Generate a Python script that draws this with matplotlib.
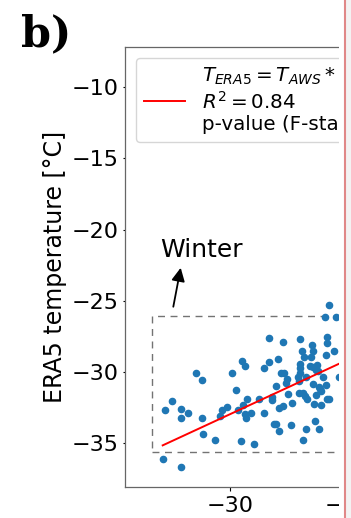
import matplotlib
matplotlib.use("Agg")
import matplotlib.pyplot as plt
from matplotlib.patches import Rectangle

# ---- data ----
aws_temp = [-35.72, -34.16, -35.52, -34.95, -34.19, -34.16, -33.57, -32.86, -32.38, -32.38,
            -32.29, -31.27, -30.82, -30.65, -30.28, -29.83, -29.46, -29.35, -29.09, -28.98,
            -28.75, -28.90, -28.70, -28.67, -28.56, -28.24, -27.99, -27.51, -27.09, -27.09,
            -26.71, -26.66, -26.46, -26.41, -26.26, -26.07, -26.07, -25.92, -25.86, -25.81,
            -25.64, -25.50, -25.47, -25.44, -25.27, -25.13, -25.07, -24.82, -24.73, -24.25,
            -24.14, -24.16, -24.08, -24.05, -24.03, -24.03, -23.88, -23.80, -23.77, -23.69,
            -23.63, -23.57, -23.52, -23.46, -23.23, -23.12, -23.03, -22.97, -22.92, -22.92,
            -22.89, -22.78, -22.72, -22.69, -22.61, -22.55, -22.44, -22.41, -22.33, -22.27,
            -22.24, -22.07, -21.95, -21.84, -21.82, -21.78, -21.76, -21.76, -21.59, -21.56,
            -21.16, -20.99, -20.70]
era5_temp = [-36.14, -36.70, -32.69, -32.08, -32.64, -33.24, -32.90, -30.07, -30.60, -33.28,
             -34.38, -34.82, -33.12, -32.69, -32.46, -30.07, -31.31, -32.69, -34.89, -29.23,
             -29.60, -32.36, -32.95, -33.26, -31.90, -32.90, -35.08, -31.90, -29.74, -32.88,
             -29.32, -27.65, -31.76, -31.99, -33.66, -31.01, -33.70, -29.13, -32.55, -34.15,
             -30.07, -32.41, -27.93, -30.07, -30.82, -30.49, -31.57, -33.77, -32.22, -30.39,
             -30.68, -31.48, -27.72, -29.46, -29.76, -30.07, -28.52, -31.48, -34.82, -28.99,
             -31.71, -34.03, -30.39, -31.94, -29.60, -28.95, -28.12, -28.57, -29.65, -30.87,
             -32.27, -33.45, -29.88, -31.62, -29.55, -29.97, -34.01, -31.05, -31.20, -32.32,
             -31.38, -30.35, -26.15, -30.91, -28.85, -28.00, -27.54, -31.94, -25.33, -31.94,
             -28.57, -26.17, -30.35]

fit_slope = 0.383
fit_intercept = -21.50
fit_x_range = [-35.72, -14.0]

winter_box_x = -36.65
winter_box_y = [-35.65, -26.06]
winter_label = "Winter"
winter_text_pos = (-32.40, -21.44)
winter_arrow_tail = (-34.82, -25.43)
winter_arrow_tip = (-34.19, -22.69)

legend_label = ("$T_{ERA5} = T_{AWS} * 0.38 - 21.5$\n"
                "$R^2 = 0.84$\n"
                "p-value (F-stat) < 0.001")
ylabel = "ERA5 temperature [°C]"
panel_label = "b)"
yticks = [-35, -30, -25, -20, -15, -10]
xticks = [-30, -20]

# ---- figure ----
W, H = 351, 518
fig = plt.figure(figsize=(W / 100, H / 100), dpi=100)
ax = fig.add_axes([124.7 / W, (H - 487) / H, 374.3 / W, 440.3 / H])

ax.scatter(aws_temp, era5_temp, s=20, color="#1f77b4", zorder=3)
fx = fit_x_range
fy = [fit_slope * v + fit_intercept for v in fx]
ax.plot(fx, fy, color="red", lw=1.4, label=legend_label, zorder=4)

ax.add_patch(Rectangle((winter_box_x, winter_box_y[0]), 30, winter_box_y[1] - winter_box_y[0],
                       fill=False, ls=(0, (5, 4)), lw=1.0, edgecolor="0.45", zorder=2))
ax.text(*winter_text_pos, winter_label, ha="center", va="center", fontsize=18)
ax.annotate("", xy=winter_arrow_tip, xytext=winter_arrow_tail,
            arrowprops=dict(arrowstyle="-|>", color="black", lw=1.3, mutation_scale=20,
                            shrinkA=0, shrinkB=0))

ax.set_xlim(-38.95, -7.14)
ax.set_ylim(-38.11, -7.14)
ax.set_yticks(yticks)
ax.set_xticks(xticks)
ax.tick_params(axis="y", labelsize=16, length=1.5, pad=3.1)
ax.tick_params(axis="x", labelsize=16, length=3, pad=3.5)
ax.set_ylabel(ylabel, fontsize=17)
ax.yaxis.set_label_coords((67.3 - 124.7) / 374.3, 0.5)
for sp in ax.spines.values():
    sp.set_color("0.4")
    sp.set_linewidth(0.9)

ax.legend(loc="upper left", fontsize=14.3, handlelength=2.1, handletextpad=0.85,
          borderaxespad=0.55)

fig.text(21 / W, 1 - 46 / H, panel_label, fontsize=31, fontweight="bold",
         family="DejaVu Serif", ha="left", va="baseline")

# cropped right edge of the original panel
fig.add_artist(Rectangle((338.5 / W, 0), (W - 338.5) / W, 1, transform=fig.transFigure,
                         facecolor="white", edgecolor="none", zorder=20))
fig.add_artist(Rectangle((346 / W, 0), (W - 346) / W, 1, transform=fig.transFigure,
                         facecolor="#f3f3f3", edgecolor="none", zorder=21))
fig.add_artist(plt.Line2D([345 / W, 345 / W], [0, 1], transform=fig.transFigure,
                          color="#e08888", lw=1.5, zorder=22))

fig.savefig("out.png", dpi=100)
